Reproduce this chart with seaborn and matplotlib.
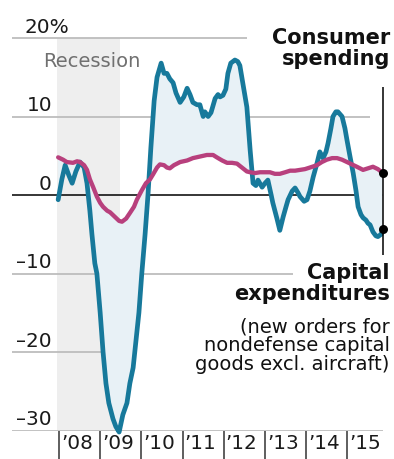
import numpy as np
import matplotlib
matplotlib.use("Agg")
import matplotlib.pyplot as plt
import seaborn as sns
from matplotlib.transforms import blended_transform_factory, ScaledTranslation

# ---------------- data ----------------
capex_x = [2007.98, 2008.07, 2008.15, 2008.24, 2008.32, 2008.41, 2008.51, 2008.61, 2008.68,
           2008.75, 2008.80, 2008.87, 2008.92, 2009.00, 2009.07, 2009.14, 2009.21, 2009.31,
           2009.38, 2009.46, 2009.55, 2009.65, 2009.72, 2009.80, 2009.84, 2009.94, 2010.01,
           2010.09, 2010.16, 2010.23, 2010.31, 2010.38, 2010.48, 2010.55, 2010.62, 2010.69,
           2010.77, 2010.84, 2010.94, 2011.03, 2011.11, 2011.18, 2011.25, 2011.35, 2011.42,
           2011.50, 2011.54, 2011.62, 2011.69, 2011.79, 2011.86, 2011.91, 2011.98, 2012.05,
           2012.10, 2012.17, 2012.27, 2012.34, 2012.39, 2012.47, 2012.56, 2012.64, 2012.71,
           2012.78, 2012.83, 2012.93, 2013.00, 2013.07, 2013.15, 2013.19, 2013.29, 2013.36,
           2013.44, 2013.51, 2013.56, 2013.66, 2013.73, 2013.80, 2013.85, 2013.95, 2014.02,
           2014.09, 2014.17, 2014.26, 2014.33, 2014.41, 2014.48, 2014.53, 2014.60, 2014.65,
           2014.72, 2014.77, 2014.82, 2014.87, 2014.94, 2014.99, 2015.06, 2015.14, 2015.21,
           2015.26, 2015.33, 2015.38, 2015.45, 2015.50, 2015.55, 2015.62, 2015.69, 2015.74,
           2015.82, 2015.86]
capex_y = [-0.6, 2.0, 3.8, 2.5, 1.5, 3.0, 4.2, 3.5, 1.5,
           -2.0, -5.0, -8.7, -10.0, -15.0, -20.0, -24.0, -26.5, -28.5,
           -29.5, -30.2, -28.0, -26.5, -24.0, -22.0, -20.0, -15.0, -10.0,
           -5.0, 0.0, 6.0, 12.0, 15.0, 16.8, 15.5, 15.5, 14.8,
           14.3, 13.0, 11.8, 12.5, 13.6, 12.8, 11.8, 11.5, 11.5,
           10.0, 10.6, 10.0, 10.5, 12.3, 12.8, 12.5, 12.7, 13.5,
           15.5, 16.8, 17.2, 17.0, 16.5, 14.0, 11.2, 5.7, 1.5,
           1.2, 1.9, 1.0, 1.5, 1.9, 0.0, -1.0, -3.0, -4.5,
           -2.8, -1.5, -0.6, 0.5, 0.9, 0.3, -0.2, -0.8, -0.6,
           0.5, 2.3, 4.0, 5.5, 4.7, 5.5, 6.6, 8.5, 10.0,
           10.6, 10.6, 10.3, 10.0, 8.5, 7.0, 5.0, 2.8, 0.5,
           -1.5, -2.5, -2.9, -3.2, -3.6, -3.8, -4.7, -5.2, -5.3,
           -5.0, -4.3]

consumer_x = [2007.98, 2008.10, 2008.19, 2008.34, 2008.44, 2008.51, 2008.61, 2008.68, 2008.75,
              2008.83, 2008.92, 2009.00, 2009.07, 2009.17, 2009.24, 2009.36, 2009.46, 2009.53,
              2009.63, 2009.72, 2009.82, 2009.89, 2010.01, 2010.11, 2010.21, 2010.28, 2010.38,
              2010.45, 2010.55, 2010.62, 2010.69, 2010.79, 2010.94, 2011.11, 2011.25, 2011.42,
              2011.59, 2011.74, 2011.83, 2011.96, 2012.08, 2012.20, 2012.32, 2012.44, 2012.56,
              2012.64, 2012.76, 2012.88, 2013.00, 2013.12, 2013.24, 2013.36, 2013.49, 2013.61,
              2013.73, 2013.85, 2013.97, 2014.09, 2014.26, 2014.38, 2014.50, 2014.63, 2014.75,
              2014.87, 2014.99, 2015.11, 2015.23, 2015.38, 2015.50, 2015.62, 2015.74, 2015.86]
consumer_y = [4.8, 4.5, 4.2, 4.1, 4.3, 4.2, 3.8, 3.2, 2.0,
              1.0, -0.2, -1.0, -1.5, -2.0, -2.2, -2.8, -3.3, -3.4,
              -3.0, -2.3, -1.5, -0.6, 0.6, 1.5, 2.0, 2.6, 3.5,
              3.9, 3.8, 3.5, 3.4, 3.8, 4.2, 4.4, 4.7, 4.9,
              5.1, 5.1, 4.8, 4.4, 4.1, 4.1, 4.0, 3.5, 3.0,
              2.9, 2.8, 2.9, 2.9, 2.9, 2.7, 2.7, 2.9, 3.1,
              3.1, 3.2, 3.3, 3.5, 3.8, 4.2, 4.5, 4.7, 4.7,
              4.5, 4.2, 3.9, 3.6, 3.2, 3.4, 3.6, 3.3, 2.8]

recession = (2007.96, 2009.48)
year_ticks = [2008, 2009, 2010, 2011, 2012, 2013, 2014, 2015]
year_labels = ["\u201908", "\u201909", "\u201910", "\u201911", "\u201912", "\u201913", "\u201914", "\u201915"]
y_values = [20, 10, 0, -10, -20, -30]
y_labels = ["20%", "10", "0", "\u201310", "\u201320", "\u201330"]
grid_ends = [2012.56, 2015.55, 2015.864, 2013.68, 2009.60, 2015.864]

# ---------------- style ----------------
sns.set_style("white")
plt.rcParams["font.family"] = ["DejaVu Sans"]

BLUE = "#17799b"
MAGENTA = "#b8407d"
FILL = "#e8f1f6"
GRID = "#b8b8b8"
TXT = "#1a1a1a"

fig = plt.figure(figsize=(3.94, 4.59), dpi=100)
ax = fig.add_axes([12 / 394, 28.5 / 459, 371 / 394, 420.5 / 459])
XL, XR = 2006.86, 2015.864
YB, YT = -30, 23.57
ax.set_xlim(XL, XR)
ax.set_ylim(YB, YT)
for s in ax.spines.values():
    s.set_visible(False)

# recession shading
ax.axvspan(recession[0], recession[1], ymin=0, ymax=(20 - YB) / (YT - YB),
           color="#eeeeee", lw=0, zorder=0)
ax.text(2007.61, 17.07, "Recession", color="#707070", fontsize=14,
        va="center", ha="left", zorder=8)

# gridlines
for v, xe in zip(y_values, grid_ends):
    if v == 0:
        ax.hlines(v, XL, xe, color="black", lw=1.1, zorder=2)
    else:
        ax.hlines(v, XL, xe, color=GRID, lw=1.2, zorder=1)

# fill between the two series
cx, cy = np.array(capex_x), np.array(capex_y)
mx, my = np.array(consumer_x), np.array(consumer_y)
ax.fill(np.r_[cx, mx[::-1]], np.r_[cy, my[::-1]], color=FILL, lw=0, zorder=3)

# lines
sns.lineplot(x=cx, y=cy, ax=ax, color=BLUE, lw=3.4, estimator=None, zorder=5)
sns.lineplot(x=mx, y=my, ax=ax, color=MAGENTA, lw=3.1, estimator=None, zorder=6)
for ln in ax.lines:
    ln.set_clip_on(False)
    ln.set_solid_capstyle("round")
    ln.set_solid_joinstyle("round")

# end markers + leader line
ax.vlines(cx[-1], -7.6, 13.8, color="black", lw=1.1, zorder=7, clip_on=False)
ax.scatter([mx[-1], cx[-1]], [my[-1], cy[-1]], s=42, color="black", zorder=9,
           clip_on=False, linewidths=0)

# annotations
ax.text(2016.03, 21.3, "Consumer\nspending", ha="right", va="top", fontsize=15,
        fontweight="bold", color="#111111", linespacing=1.05, clip_on=False)
ax.text(2016.03, -8.7, "Capital\nexpenditures", ha="right", va="top", fontsize=15,
        fontweight="bold", color="#111111", linespacing=1.05, clip_on=False)
ax.text(2016.03, -15.6, "(new orders for\nnondefense capital\ngoods excl. aircraft)",
        ha="right", va="top", fontsize=14, color="#111111", linespacing=1.0, clip_on=False)

# y labels
tr = blended_transform_factory(ax.transAxes, ax.transData)
for v, lab in zip(y_values, y_labels):
    if lab.endswith("%"):
        ax.text(13 / 371, v + 0.64, lab, transform=tr, ha="left", va="baseline",
                fontsize=14.4, color=TXT)
    else:
        ax.text(40 / 371, v + 0.64, lab, transform=tr, ha="right", va="baseline",
                fontsize=14.4, color=TXT)

# x ticks
ax.set_yticks([])
ax.set_xticks(year_ticks)
ax.set_xticklabels(year_labels)
ax.tick_params(axis="x", bottom=True, direction="out", length=20, width=1.1,
               color="#333333", pad=-17.5, labelsize=14.4, labelcolor=TXT)
off = ScaledTranslation(2 / 100, 0, fig.dpi_scale_trans)
for lbl in ax.get_xticklabels():
    lbl.set_ha("left")
    lbl.set_transform(lbl.get_transform() + off)

fig.savefig("out.png", dpi=100)
